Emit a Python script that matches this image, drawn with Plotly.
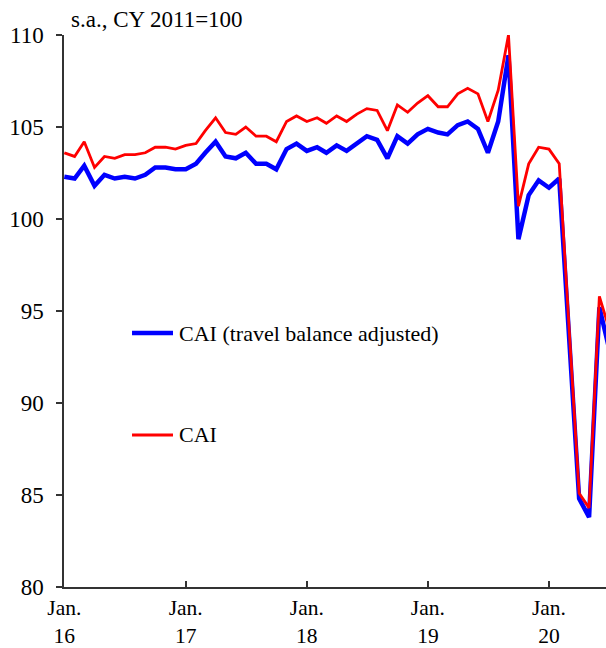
import plotly.graph_objects as go
import pandas as pd

months = pd.date_range("2016-01-01", periods=55, freq="MS")

cai_travel_adj = [
    102.3, 102.2, 102.9, 101.8, 102.4, 102.2, 102.3, 102.2, 102.4, 102.8, 102.8, 102.7,
    102.7, 103.0, 103.6, 104.2, 103.4, 103.3, 103.6, 103.0, 103.0, 102.7, 103.8, 104.1,
    103.7, 103.9, 103.6, 104.0, 103.7, 104.1, 104.5, 104.3, 103.3, 104.5, 104.1, 104.6,
    104.9, 104.7, 104.6, 105.1, 105.3, 104.9, 103.6, 105.3, 108.9, 98.9, 101.3, 102.1,
    101.7, 102.2, 93.8, 84.8, 83.8, 95.2, 92.9,
]
cai = [
    103.6, 103.4, 104.2, 102.8, 103.4, 103.3, 103.5, 103.5, 103.6, 103.9, 103.9, 103.8,
    104.0, 104.1, 104.8, 105.5, 104.7, 104.6, 105.0, 104.5, 104.5, 104.2, 105.3, 105.6,
    105.3, 105.5, 105.2, 105.6, 105.3, 105.7, 106.0, 105.9, 104.8, 106.2, 105.8, 106.3,
    106.7, 106.1, 106.1, 106.8, 107.1, 106.8, 105.3, 107.0, 110.0, 100.7, 103.0, 103.9,
    103.8, 103.0, 94.3, 85.1, 84.3, 95.8, 94.0,
]

tick_dates = ["2016-01-01", "2017-01-01", "2018-01-01", "2019-01-01", "2020-01-01"]
tick_labels = ["Jan.<br>16", "Jan.<br>17", "Jan.<br>18", "Jan.<br>19", "Jan.<br>20"]
y_ticks = [80, 85, 90, 95, 100, 105, 110]

series_names = ["CAI (travel balance adjusted)", "CAI"]
series_colors = ["#0000ff", "#ff0000"]
series_widths = [4.5, 2.8]

FONT = "Liberation Serif, Times New Roman, serif"

fig = go.Figure()
for name, vals, col, w in zip(series_names, [cai_travel_adj, cai], series_colors, series_widths):
    fig.add_trace(go.Scatter(x=months, y=vals, mode="lines", name=name,
                             line=dict(color=col, width=w), showlegend=False))

# manual legend (line samples + labels)
legend_y = [0.4601, 0.2754]
shapes = []
annotations = []
for name, col, w, ly in zip(series_names, series_colors, series_widths, legend_y):
    shapes.append(dict(type="line", xref="paper", yref="paper",
                       x0=0.1255, x1=0.2011, y0=ly, y1=ly,
                       line=dict(color=col, width=w)))
    annotations.append(dict(text=name, xref="paper", yref="paper",
                            x=0.2085, y=ly, xanchor="left", yanchor="middle",
                            showarrow=False, font=dict(size=22, family=FONT)))

annotations.append(dict(
    text="s.a., CY 2011=100", xref="paper", yref="paper",
    x=0.009, y=1.028, xanchor="left", yanchor="middle",
    showarrow=False, font=dict(size=23, family=FONT),
))

fig.update_layout(
    width=606, height=648,
    margin=dict(l=64, r=0, t=35, b=61),
    paper_bgcolor="white", plot_bgcolor="white",
    font=dict(family=FONT, size=23, color="black"),
    showlegend=False,
    xaxis=dict(
        range=["2015-12-31", "2020-06-21"],
        tickvals=tick_dates, ticktext=tick_labels,
        ticks="inside", ticklen=6, tickwidth=1.5, tickcolor="#333",
        showline=True, linecolor="#333", linewidth=1.5,
        showgrid=False, zeroline=False, automargin=False,
        tickfont=dict(size=21.5, family=FONT),
    ),
    yaxis=dict(
        range=[80, 110],
        tickvals=y_ticks,
        ticks="outside", ticklen=6, tickwidth=1.5, tickcolor="#333",
        showline=True, linecolor="#333", linewidth=1.5,
        showgrid=False, zeroline=False, automargin=False,
        ticklabelstandoff=8,
        tickfont=dict(size=23, family=FONT),
    ),
    shapes=shapes,
    annotations=annotations,
)

fig.write_html("out.html", config={"displayModeBar": False},
               post_script="document.body.style.margin='0';")
